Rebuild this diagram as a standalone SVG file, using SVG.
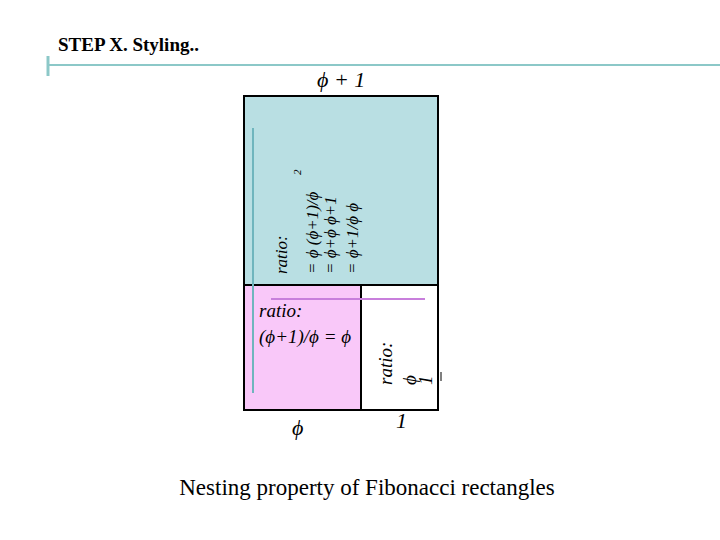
<svg xmlns="http://www.w3.org/2000/svg" width="720" height="540" viewBox="0 0 720 540">
<style>
.t{font-family:"Liberation Serif",serif;fill:#000}
.i{font-family:"Liberation Serif",serif;font-style:italic;fill:#000}
</style>
<rect width="720" height="540" fill="#fff"/>
<g id="header">
<line x1="48" y1="65" x2="720" y2="65" stroke="#8cc8c8" stroke-width="2"/>
<line x1="48" y1="56" x2="48" y2="76" stroke="#8cc8c8" stroke-width="3"/>
<text class="t" x="58" y="51" font-size="19" font-weight="bold">STEP X. Styling..</text>
</g>
<g id="top">
<rect x="244" y="96" width="194" height="189" fill="#b9dfe3" stroke="#000" stroke-width="2"/>
<text class="i" x="317" y="87" font-size="22">ϕ + 1</text>
<text class="i" font-size="17" transform="translate(287,274) rotate(-90)">ratio:</text>
<text class="i" font-size="17" transform="translate(318,274) rotate(-90)">= ϕ   (ϕ+1)/ϕ</text>
<text class="i" font-size="17" transform="translate(336,274) rotate(-90)">= ϕ+ϕ  ϕ+1</text>
<text class="i" font-size="17" transform="translate(358,274) rotate(-90)">= ϕ+1/ϕ   ϕ</text>
<text class="i" font-size="11" transform="translate(301,175) rotate(-90)">2</text>
</g>
<g id="left">
<rect x="244" y="285" width="117" height="125" fill="#f9c8f9" stroke="#000" stroke-width="2"/>
<text class="i" x="259" y="317" font-size="19">ratio:</text>
<text class="i" x="259" y="343" font-size="19">(ϕ+1)/ϕ = ϕ</text>
<text class="i" x="292" y="435" font-size="22">ϕ</text>
</g>
<g id="right">
<rect x="361" y="285" width="77" height="125" fill="#fff" stroke="#000" stroke-width="2"/>
<text class="i" font-size="19" transform="translate(392,385) rotate(-90)">ratio:</text>
<text class="i" font-size="19" transform="translate(416,385) rotate(-90)">ϕ</text>
<text class="i" font-size="19" transform="translate(432,385) rotate(-90)">1</text>
<line x1="441" y1="372" x2="441" y2="381" stroke="#000" stroke-width="1"/>
<text class="i" x="396" y="428" font-size="22">1</text>
</g>
<g id="connectors">
<line x1="253" y1="128" x2="253" y2="393" stroke="#6fb5bd" stroke-width="2"/>
<line x1="271" y1="299" x2="425" y2="299" stroke="#c87fdc" stroke-width="2"/>
</g>
<text class="t" x="367" y="495" font-size="23" text-anchor="middle">Nesting property of Fibonacci rectangles</text>
</svg>
